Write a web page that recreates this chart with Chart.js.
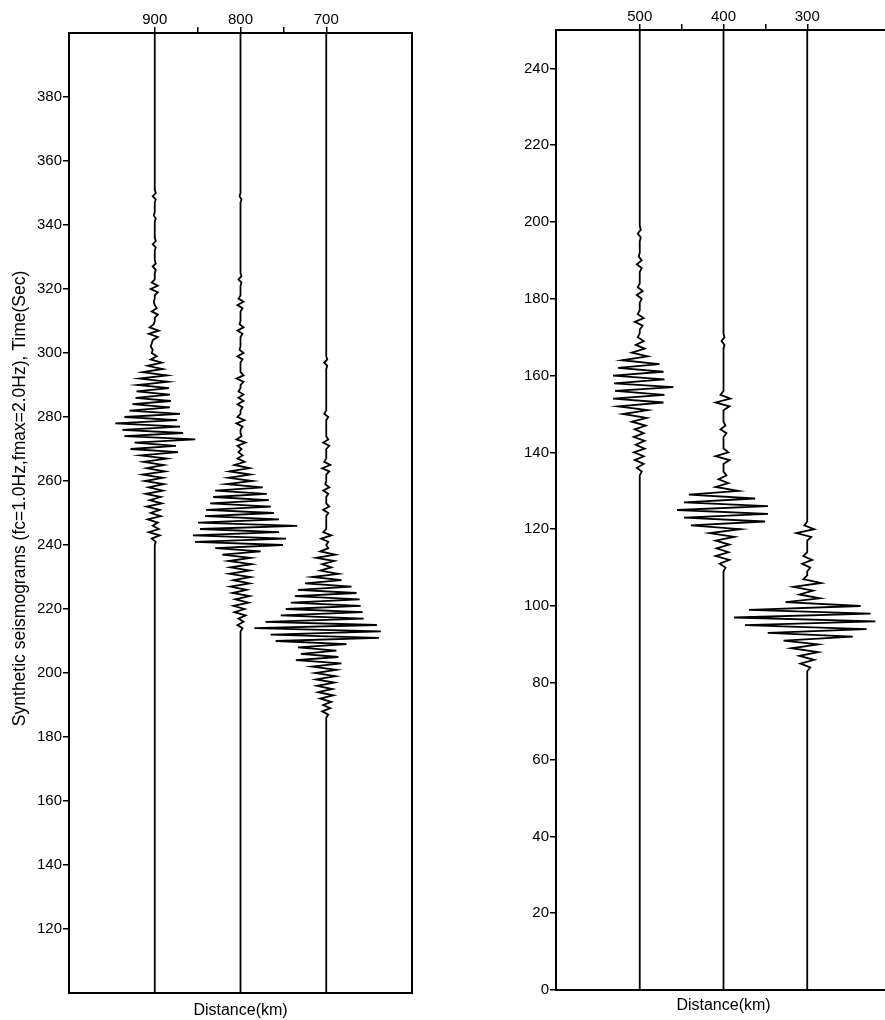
<!DOCTYPE html>
<html>
<head>
<meta charset="utf-8">
<script src="https://cdn.jsdelivr.net/npm/chart.js@4.4.1/dist/chart.umd.min.js"></script>
<style>
  html, body { margin: 0; padding: 0; background: #fff; overflow: hidden; }
  body { width: 885px; height: 1020px; position: relative; }
  canvas { position: absolute; top: 0; }
  #left { left: 0; }
  #right { left: 480px; }
</style>
</head>
<body>
<canvas id="left" width="440" height="1020"></canvas>
<canvas id="right" width="420" height="1020"></canvas>
<script>
// stations (km) and first sample time (s) of each trace, 1 s between samples
const distLeft = [900, 800, 700];
const distRight = [500, 400, 300];
const startLeft = [240, 212, 186];
const startRight = [134, 109, 83];

// tick labels
const timeTicksLeft = [120, 140, 160, 180, 200, 220, 240, 260, 280, 300, 320, 340, 360, 380];
const timeTicksRight = [0, 20, 40, 60, 80, 100, 120, 140, 160, 180, 200, 220, 240];
const distTicksLeft = [900, 850, 800, 750, 700];
const distTicksRight = [500, 450, 400, 350, 300];

// trace amplitudes (relative units, + = right)
const amp900 = [
  0, 1, -3, 5, -6, 4, -2, 3, -7, 6,
  -4, 5, -8, 7, -5, 6, -9, 8, -6, 9,
  -10, 8, -12, 10, -8, 9, -11, 12, -14, 23,
  -24, 21, -20, 40, -30, 28, -32, 25, -39, 22,
  -30, 25, -25, 15, -22, 16, -19, 15, -18, 14,
  -17, 13, -15, 12, -12, 8, -7, 7, -4, 2,
  -3, -2, -4, -3, -2, 3, -6, 4, -5, -1,
  0, 0, 3, -3, 2, 0, -1, 0, 0, 3,
  -4, 3, -3, 0, 0, 0, 1, -2, 1, 0,
  0, 0, 0, 1, -2, 1, 0, 0, 0, 0,
  0, 0, 1, -1, 0, 0, 0, 0, 1, -2,
  1, 0, 0
];
const amp800 = [
  0, 0, 2, -3, 3, -2, 5, -6, 4, -7,
  8, -5, 9, -8, 6, -10, 9, -7, 10, -11,
  9, -10, 11, -12, 10, -18, 20, -25, 42, -45,
  45, -47, 38, -40, 56, -42, 38, -35, 33, -34,
  30, -30, 28, -27, 26, -25, 22, -14, 12, -12,
  10, -11, 9, -6, 4, -3, 2, -2, 1, -3,
  5, -4, 1, 0, 0, 2, -4, 4, -3, 0,
  0, 2, -3, 3, -2, 3, -2, 0, 0, 3,
  -4, 3, 0, 0, 0, 0, 2, -3, 3, -1,
  0, 0, 0, 0, 2, -3, 3, -1, 0, 0,
  0, 0, 2, -3, 3, -2, 0, 0, 0, 0,
  1, -2, 1, 0, 0, 0, 0, 0, 0, 0,
  0, 0, 0, 0, 0, 0, 0, 0, 0, 0,
  0, 0, 0, 0, 0, 0, 1, -1, 0, 0,
  0
];
const amp700 = [
  0, 2, -4, 4, -3, 5, -6, 7, -8, 6,
  -9, 8, -10, 9, -11, 10, -14, 15, -30, 12,
  -25, 10, -28, 20, -50, 52, -55, 54, -71, 50,
  -60, 37, -45, 36, -40, 34, -35, 33, -31, 30,
  -28, 25, -21, 15, -14, 12, -6, 5, -4, 8,
  -10, 9, -6, 2, 0, 2, -5, 5, -3, 0,
  0, 0, 0, 0, 2, -3, 3, 0, 0, 0,
  2, -3, 3, -1, 0, 0, 0, 3, -4, 4,
  -2, 0, 0, 0, 0, 3, -3, 2, 0, 0,
  0, 0, 0, 0, 2, -2, 0, 0, 0, 0,
  0, 0, 0, 0, 0, 0, 0, 0, 0, 0,
  1, -2, 1, 0, 0
];
const amp500 = [
  0, 2, -3, 4, -5, 4, -6, 5, -4, 5,
  -6, 4, -5, 6, -8, 7, -17, 8, -22, 24,
  -27, 25, -25, 34, -26, 25, -27, 24, -22, 20,
  -18, 8, -8, 5, -4, 4, -2, 0, 0, 3,
  -5, 4, -2, 0, 0, 0, 2, -3, 3, -2,
  0, 0, 0, 0, 2, -3, 2, -1, 0, 0,
  0, 0, 1, -2, 1, 0, 0
];
const amp400 = [
  0, 2, -4, 6, -8, 5, -7, 6, -8, 11,
  -14, 17, -33, 42, -40, 45, -47, 45, -40, 32,
  -35, 15, -8, 5, -5, 3, 0, 0, 0, 6,
  -8, 5, 0, 0, 0, 0, 3, -3, 2, 0,
  0, 0, 0, 6, -8, 7, -3, 0, 0, 0,
  0, 0, 0, 0, 0, 0, 0, 0, 0, 1,
  -2, 1, 0, 0
];
const amp300 = [
  0, 3, -7, 7, -8, 11, -16, 11, -24, 46,
  -40, 60, -63, 69, -74, 64, -59, 54, -22, 13,
  -8, 6, -14, 14, -4, 0, 0, 3, -5, 5,
  -4, 0, 0, 0, 0, 4, -11, 7, -3, 0,
  0, 0
];

const TRACE_GAIN = 1.18; // km of offset per amplitude unit
const font = { family: '"Liberation Sans", Arial, Helvetica, sans-serif', size: 15 };
Chart.defaults.color = '#000';
Chart.defaults.font.family = font.family;

const frame = {
  id: 'frame',
  afterDatasetsDraw(chart) {
    const { ctx, chartArea: a } = chart;
    ctx.save();
    ctx.strokeStyle = '#000';
    ctx.lineWidth = 2;
    ctx.strokeRect(a.left, a.top, a.right - a.left, a.bottom - a.top);
    ctx.restore();
  }
};

function traceData(dist, start, amps, tMin, tMax) {
  const pts = [{ x: dist, y: tMin }];
  amps.forEach((a, i) => pts.push({ x: dist - a * TRACE_GAIN, y: start + i }));
  pts.push({ x: dist, y: tMax });
  return pts;
}

function makePanel(id, p) {
  const datasets = p.dists.map((d, i) => ({
    data: traceData(d, p.starts[i], p.amps[i], p.yMin, p.yMax),
    showLine: true,
    borderColor: '#000',
    borderWidth: 1.8,
    pointRadius: 0,
    tension: 0
  }));
  return new Chart(document.getElementById(id), {
    type: 'scatter',
    data: { datasets },
    plugins: [frame],
    options: {
      responsive: false,
      animation: false,
      events: [],
      layout: { padding: { right: p.padRight } },
      plugins: { legend: { display: false }, tooltip: { enabled: false } },
      scales: {
        x: {
          type: 'linear', position: 'top', reverse: true, min: p.xMin, max: p.xMax,
          afterBuildTicks: s => { s.ticks = p.xTicks.map(v => ({ value: v })); },
          ticks: { font, padding: -2, maxRotation: 0, autoSkip: false,
                   callback: v => (v % 100 === 0 ? v : '') },
          grid: { drawOnChartArea: false, tickLength: 6, color: '#000', lineWidth: 1.5 },
          border: { display: false },
          afterFit: s => { s.height = p.top; }
        },
        xb: {
          type: 'linear', position: 'bottom', min: p.xMin, max: p.xMax,
          ticks: { display: false },
          grid: { display: false },
          border: { display: false },
          title: { display: true, text: 'Distance(km)', font: { size: 16 }, padding: { top: 0, bottom: p.titlePad } },
          afterFit: s => { s.height = p.bottom; }
        },
        y: {
          type: 'linear', position: 'left', min: p.yMin, max: p.yMax,
          afterBuildTicks: s => { s.ticks = p.yTicks.map(v => ({ value: v })); },
          ticks: { font, padding: 1, autoSkip: false },
          grid: { drawOnChartArea: false, tickLength: 6, color: '#000', lineWidth: 1.5 },
          border: { display: false },
          title: { display: !!p.yTitle, text: p.yTitle || '', font: { size: 17.5 }, padding: { top: 10, bottom: 0 } },
          afterFit: s => { s.width = p.left; }
        }
      }
    }
  });
}

makePanel('left', {
  dists: distLeft, starts: startLeft, amps: [amp900, amp800, amp700],
  xMin: 600, xMax: 1000, yMin: 100, yMax: 400,
  xTicks: distTicksLeft, yTicks: timeTicksLeft,
  left: 69, top: 33, bottom: 27, padRight: 28, titlePad: 0,
  // leading no-break spaces nudge the centred title slightly upward, as in the original
  yTitle: '\u00a0\u00a0\u00a0\u00a0\u00a0\u00a0Synthetic seismograms (fc=1.0Hz,fmax=2.0Hz), Time(Sec)'
});

makePanel('right', {
  dists: distRight, starts: startRight, amps: [amp500, amp400, amp300],
  xMin: 200, xMax: 600, yMin: 0, yMax: 250,
  xTicks: distTicksRight, yTicks: timeTicksRight,
  left: 76, top: 30, bottom: 30, padRight: 9, titlePad: 5
});
</script>
</body>
</html>
